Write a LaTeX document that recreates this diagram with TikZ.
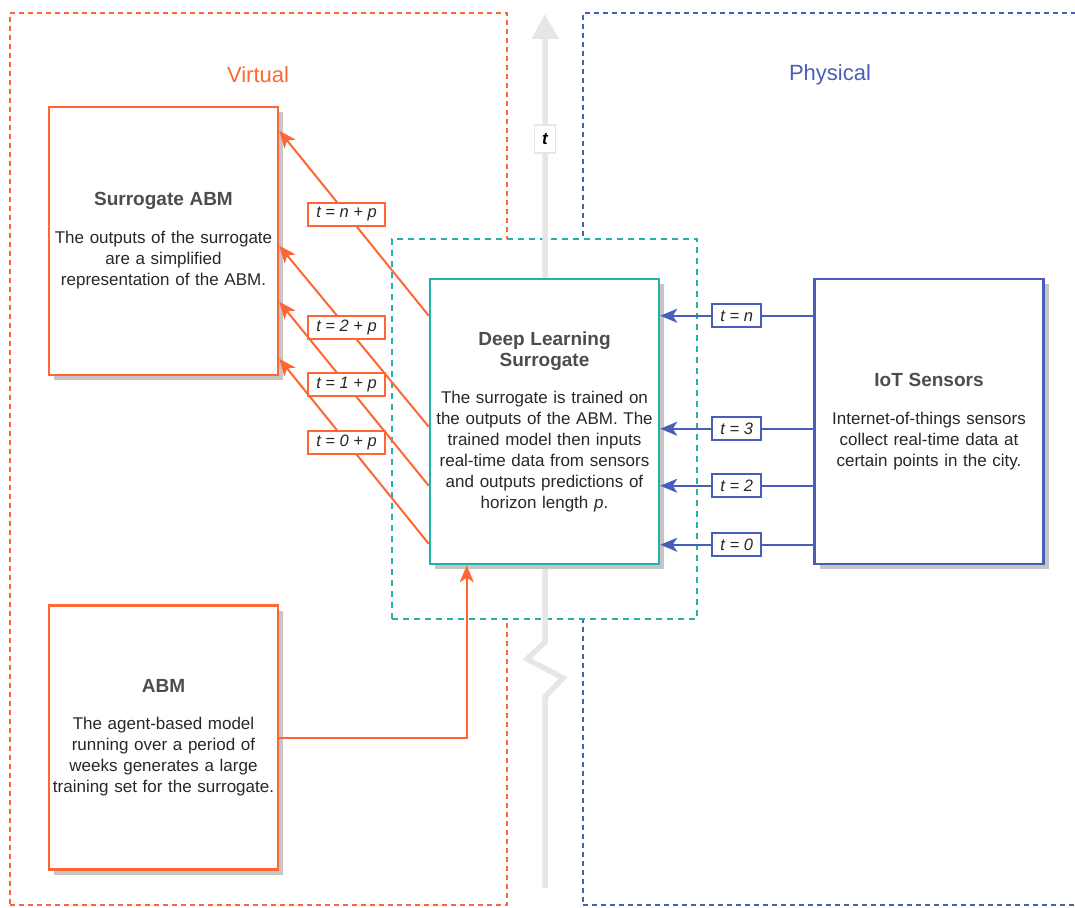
\documentclass[tikz,border=0pt]{standalone}
\usepackage{fontspec}
\setmainfont{Liberation Sans}
\usetikzlibrary{positioning,arrows.meta,shadows}
\definecolor{virtorange}{RGB}{255,102,51}
\definecolor{physblue}{RGB}{72,94,184}
\definecolor{surrteal}{RGB}{36,178,168}
\definecolor{timegray}{RGB}{230,230,230}
\definecolor{titlegray}{RGB}{77,77,77}
\definecolor{bodygray}{RGB}{40,40,40}
\newcommand{\boxtitle}[1]{{\fontsize{19}{23}\selectfont\bfseries\color{titlegray}#1}}
\tikzset{
  block/.style={draw, line width=2.5pt, fill=white, minimum width=229pt,
    text width=222pt, inner xsep=3.5pt, align=center, text=bodygray,
    font=\fontsize{17}{21}\selectfont,
    drop shadow={shadow xshift=5pt, shadow yshift=-5pt, fill=gray!45, opacity=1}},
  region/.style={draw, line width=2pt, dash pattern=on 5pt off 4pt, inner sep=0pt},
  tlabel/.style={draw, line width=2pt, fill=white, inner xsep=8pt, inner ysep=0pt,
    minimum height=23pt, font=\fontsize{16.5}{18}\selectfont\itshape, text=bodygray},
  sendarrow/.style={line width=2pt, -{Stealth[length=17pt, width=14pt, inset=4.5pt]}},
}

\begin{document}
\begin{tikzpicture}[x=1pt, y=-1pt]
  \useasboundingbox (0,0) rectangle (1075,907);
  \clip (0,0) rectangle (1075,907);

  % virtual and physical sides
  \node[region, virtorange, minimum width=497pt, minimum height=892pt] (virtual) at (258.5,459) {};
  \node[region, physblue, minimum width=507pt, minimum height=892pt] (physical) at (836.5,459) {};
  \node[text=virtorange, font=\fontsize{22}{26}\selectfont] (virtlabel) at (258,75) {Virtual};
  \node[text=physblue, font=\fontsize{22}{26}\selectfont] (physlabel) at (830,75) {Physical};

  % frame round the surrogate
  \node[region, surrteal, fill=white, dash pattern=on 6pt off 5pt,
        minimum width=305pt, minimum height=380pt] (dlsframe) at (544.5,429) {};

  % time axis
  \coordinate (tstart) at (545,888);
  \coordinate (tend) at (545,14);
  \draw[timegray, line width=5.5pt, -{Triangle[length=25pt, width=26pt]}]
    (tstart) -- (545,697) -- (563,678) -- (527,659) -- (545,642) -- (tend);
  \node[draw=timegray, line width=1.2pt, fill=white, minimum width=21pt, minimum height=28pt,
        inner sep=0pt, font=\fontsize{17}{20}\selectfont\bfseries\itshape] (tmark) at (545,139) {t};

  % models
  \node[block, draw=virtorange, minimum height=268pt] (sabm) at (163.5,241)
    {\boxtitle{Surrogate ABM}\\[17pt]
     The outputs of the surrogate\\ are a simplified\\ representation of the ABM.};
  \node[block, draw=virtorange, minimum height=264pt, below=228pt of sabm] (abm)
    {\boxtitle{ABM}\\[16pt]
     The agent-based model\\ running over a period of\\ weeks generates a large\\ training set for the surrogate.};
  \node[block, draw=surrteal, minimum height=285pt] (dls) at (544.5,421.5)
    {\boxtitle{Deep Learning\\Surrogate}\\[16pt]
     The surrogate is trained on\\ the outputs of the ABM. The\\ trained model then inputs\\
     real-time data from sensors\\ and outputs predictions of\\ horizon length \textit{p}.};
  \node[block, draw=physblue, minimum height=285pt, right=153pt of dls] (iot)
    {\boxtitle{IoT Sensors}\\[17pt]
     Internet-of-things sensors\\ collect real-time data at\\ certain points in the city.};

  % sensor readings
  \foreach \dy/\lab in {38pt/n, 151pt/3, 208pt/2, 267pt/0}
    \draw[sendarrow, physblue] ([yshift=-\dy]iot.north west) --
      node[tlabel, draw=physblue] {t = \lab} ([yshift=-\dy]dls.north east);

  % predictions
  \foreach \sy/\ty/\lab in {38pt/25pt/n, 149pt/140pt/2, 208pt/196pt/1, 266pt/253pt/0}
    \draw[sendarrow, virtorange] ([yshift=-\sy]dls.north west) --
      node[pos=0.55, tlabel, draw=virtorange] {t = \lab\ + p} ([yshift=-\ty]sabm.north east);

  % training data
  \draw[sendarrow, virtorange] (abm.east) -| ([xshift=38pt]dls.south west);
\end{tikzpicture}
\end{document}
